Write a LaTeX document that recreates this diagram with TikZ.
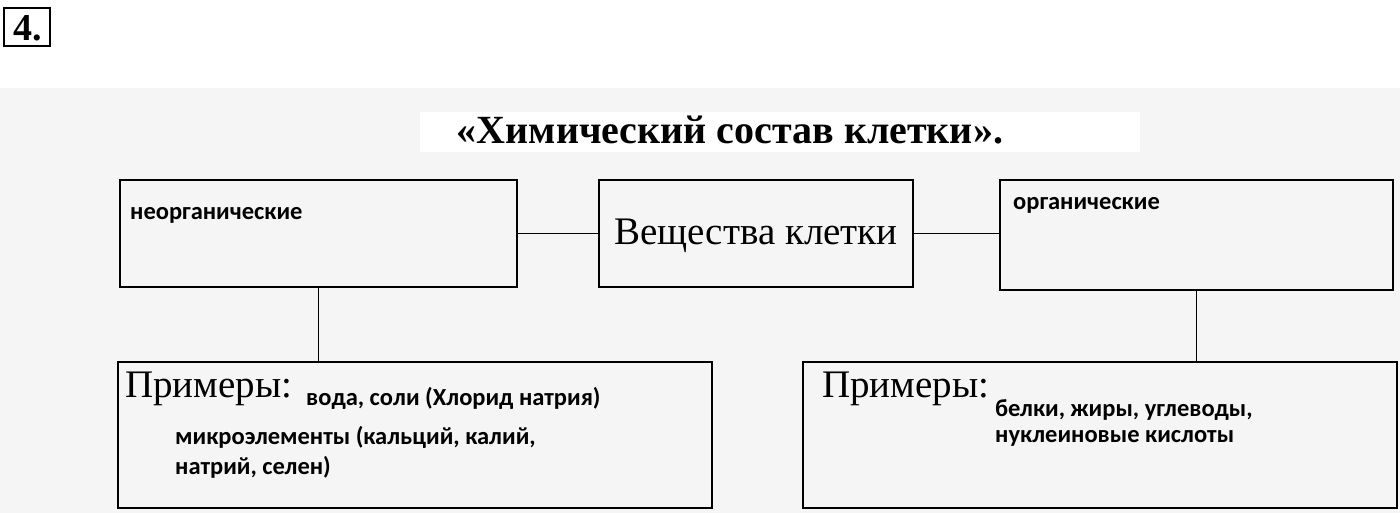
\documentclass[tikz,border=0pt]{standalone}
\usepackage{fontspec}
\setmainfont{Liberation Serif}
\newfontfamily\carl{Carlito}
\begin{document}
\begin{tikzpicture}[x=1pt,y=-1pt,
  box/.style={draw,line width=1.2pt},
  lbl/.style={font=\carl\bfseries\fontsize{24.5}{28}\selectfont,anchor=west,inner sep=0},
  ser/.style={font=\fontsize{39}{42}\selectfont,anchor=west,inner sep=0},
  ln/.style={line width=1.2pt}]
\useasboundingbox (0,0) rectangle (1400,513);
\fill[white] (0,0) rectangle (1400,513);
\fill[black!4] (0,88) rectangle (1400,513);
\fill[white] (420,112) rectangle (1140,152);
\node[draw,line width=1.8pt,minimum width=46pt,minimum height=38pt,inner sep=0] (num) at (27,27) {};
\node[font=\bfseries\fontsize{38}{40}\selectfont,inner sep=0] (numt) at (28,28) {4.};
\node[font=\bfseries\fontsize{40}{44}\selectfont,inner sep=0] (title) at (730,130) {«Химический состав клетки».};
\node[box,minimum width=397pt,minimum height=107pt] (neo) at (318.5,233.5) {};
\node[lbl] (neot) at (130,215) {неорганические};
\node[box,minimum width=314pt,minimum height=107pt] (cen) at (756,233.5) {};
\node[ser] (cent) at (614,236) {Вещества клетки};
\node[box,minimum width=393pt,minimum height=110pt] (org) at (1196.5,235) {};
\node[lbl] (orgt) at (1013,205) {органические};
\draw[ln] (neo.east) -- (cen.west);
\draw[ln] (cen.east) -- (org.west |- cen.east);
\node[box,minimum width=594pt,minimum height=146pt] (ex1) at (415,435) {};
\node[box,minimum width=594pt,minimum height=146pt] (ex2) at (1100,435) {};
\draw[ln] (neo.south) -- (ex1.north -| neo.south);
\draw[ln] (org.south) -- (ex2.north -| org.south);
\node[ser] (p1) at (125,389) {Примеры:};
\node[lbl] (a1) at (306,398) {вода, соли (Хлорид натрия)};
\node[lbl] (a2) at (175,437) {микроэлементы (кальций, калий,};
\node[lbl] (a3) at (175,467) {натрий, селен)};
\node[ser] (p2) at (822,389) {Примеры:};
\node[lbl] (b1) at (995,410) {белки, жиры, углеводы,};
\node[lbl] (b2) at (995,438) {нуклеиновые кислоты};
\end{tikzpicture}
\end{document}
